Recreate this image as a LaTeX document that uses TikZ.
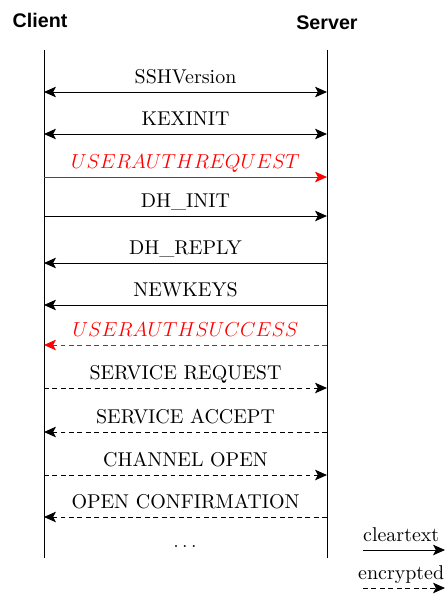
\documentclass[tikz,border=0pt]{standalone}
\usepackage{fontspec}
\setmainfont{lmroman10-regular}[Extension=.otf]
\newfontfamily\headfont{Liberation Sans}
\usetikzlibrary{arrows.meta}

\begin{document}
\begin{tikzpicture}[
  x=0.025cm, y=-0.025cm,
  font=\fontsize{14.2}{17}\selectfont,
  party/.style={font=\headfont\fontsize{14}{16}\selectfont\bfseries},
  life/.style={line width=0.7pt},
  msg/.style={line width=0.7pt, {Stealth[length=8.5pt,width=7.5pt,inset=2pt]}-{Stealth[length=8.5pt,width=7.5pt,inset=2pt]}},
  tor/.style={line width=0.7pt, -{Stealth[length=8.5pt,width=7.5pt,inset=2pt]}},
  enc/.style={dash pattern=on 3.5pt off 2.5pt},
  lbl/.style={midway, anchor=base, yshift=0.22cm, inner sep=0pt},
]
\useasboundingbox (0,0) rectangle (445,594);

% --- parties and lifelines ---
\node[party] (client) at (40,20) {Client};
\node[party] (server) at (327,23) {Server};
\coordinate (ctop) at (44,50);  \coordinate (cbot) at (44,558);
\coordinate (stop) at (327,50); \coordinate (sbot) at (327,558);
\draw[life] (ctop) -- (cbot);
\draw[life] (stop) -- (sbot);

% --- message rows ---
\coordinate (c1) at (44,92);   \coordinate (s1) at (327,92);
\coordinate (c2) at (44,134);  \coordinate (s2) at (327,134);
\coordinate (c3) at (44,177);  \coordinate (s3) at (327,177);
\coordinate (c4) at (44,216);  \coordinate (s4) at (327,216);
\coordinate (c5) at (44,263);  \coordinate (s5) at (327,263);
\coordinate (c6) at (44,305);  \coordinate (s6) at (327,305);
\coordinate (c7) at (44,345);  \coordinate (s7) at (327,345);
\coordinate (c8) at (44,388);  \coordinate (s8) at (327,388);
\coordinate (c9) at (44,432);  \coordinate (s9) at (327,432);
\coordinate (c10) at (44,475); \coordinate (s10) at (327,475);
\coordinate (c11) at (44,517); \coordinate (s11) at (327,517);

\draw[msg] (c1) -- node[lbl] {SSHVersion} (s1);
\draw[msg] (c2) -- node[lbl] {KEXINIT} (s2);
\draw[tor, red] (c3) -- node[lbl] {$USERAUTHREQUEST$} (s3);
\draw[tor] (c4) -- node[lbl] {DH\_INIT} (s4);
\draw[tor] (s5) -- node[lbl] {DH\_REPLY} (c5);
\draw[tor] (s6) -- node[lbl] {NEWKEYS} (c6);
\draw[tor, enc, red] (s7) -- node[lbl] {$USERAUTHSUCCESS$} (c7);
\draw[tor, enc] (c8) -- node[lbl] {SERVICE REQUEST} (s8);
\draw[tor, enc] (s9) -- node[lbl] {SERVICE ACCEPT} (c9);
\draw[tor, enc] (c10) -- node[lbl] {CHANNEL OPEN} (s10);
\draw[tor, enc] (s11) -- node[lbl] {OPEN CONFIRMATION} (c11);
\node (more) at (185,547) {$\ldots$};

% --- legend ---
\coordinate (k1a) at (363,550); \coordinate (k1b) at (445,550);
\coordinate (k2a) at (363,588); \coordinate (k2b) at (445,588);
\draw[tor] (k1a) -- node[lbl, xshift=-2pt] {cleartext} (k1b);
\draw[tor, enc] (k2a) -- node[lbl, xshift=-2pt] {encrypted} (k2b);
\end{tikzpicture}
\end{document}
